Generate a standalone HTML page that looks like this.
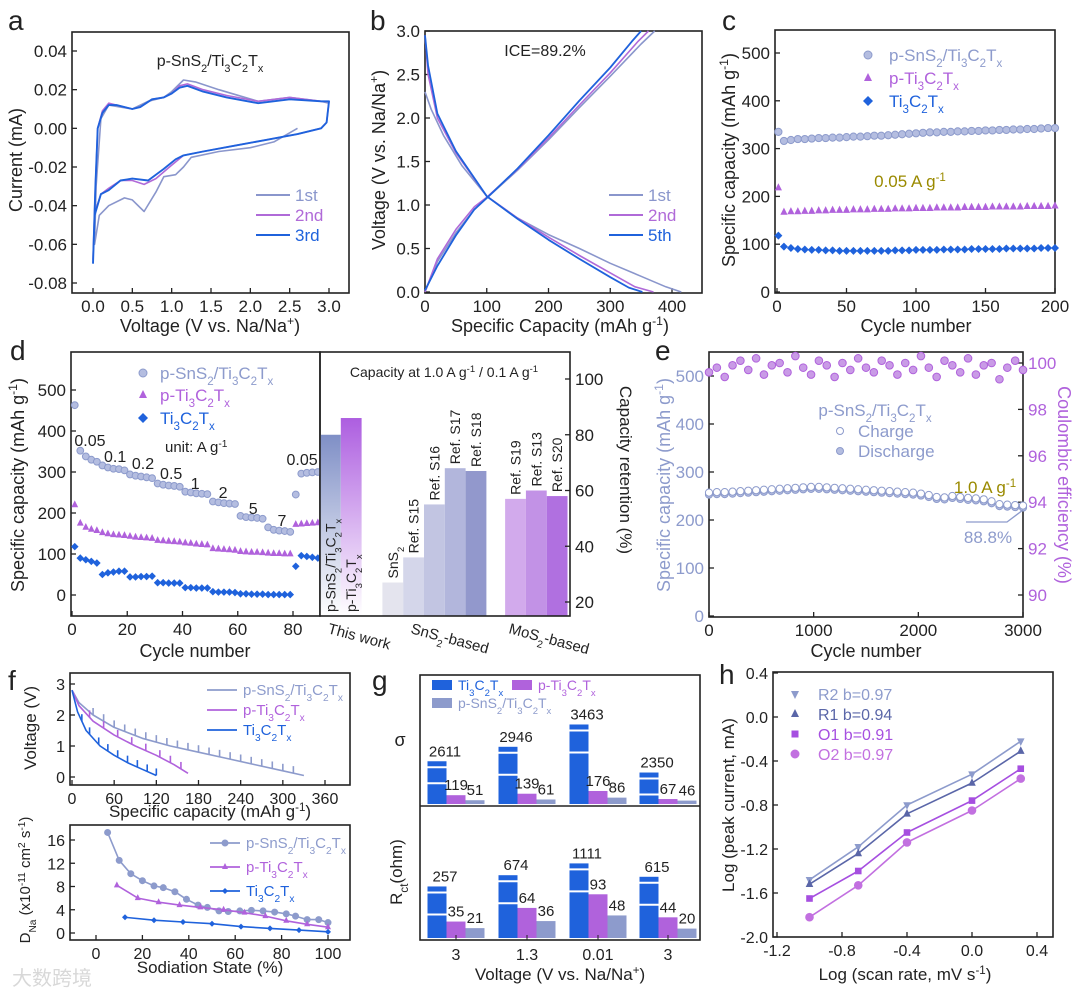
<!DOCTYPE html>
<html><head><meta charset="utf-8">
<style>
html,body{margin:0;padding:0;background:#fff;}
svg{display:block;font-family:"Liberation Sans","Noto Sans CJK SC",sans-serif;}
</style></head>
<body>
<svg id="fig" width="1080" height="991" viewBox="0 0 1080 991" xmlns="http://www.w3.org/2000/svg">
<defs>
<linearGradient id="gSn" x1="0" y1="0" x2="0" y2="1"><stop offset="0" stop-color="#7f8fc6"/><stop offset="1" stop-color="#ffffff"/></linearGradient>
<linearGradient id="gPt" x1="0" y1="0" x2="0" y2="1"><stop offset="0" stop-color="#ad5ee0"/><stop offset="1" stop-color="#ffffff"/></linearGradient>
</defs>
</svg>
<script>
// ---------- DATA ----------
const cv3 = [[0,-0.07],[0.02,-0.045],[0.1,-0.034],[0.2,-0.032],[0.35,-0.027],[0.5,-0.026],[0.7,-0.027],[0.9,-0.021],[1.05,-0.016],[1.15,-0.014],[1.4,-0.012],[1.8,-0.009],[2.2,-0.006],[2.6,-0.003],[2.9,0.0],[2.97,0.003],[3.0,0.014],[2.9,0.014],[2.5,0.015],[2.1,0.013],[1.7,0.016],[1.4,0.019],[1.2,0.022],[1.1,0.021],[1.0,0.018],[0.9,0.016],[0.75,0.015],[0.6,0.011],[0.5,0.01],[0.3,0.012],[0.2,0.012],[0.12,0.008],[0.06,0.0],[0.03,-0.03],[0,-0.07]];
const cv2 = [[0,-0.068],[0.02,-0.044],[0.1,-0.034],[0.2,-0.031],[0.35,-0.027],[0.5,-0.027],[0.65,-0.029],[0.8,-0.026],[1.0,-0.019],[1.15,-0.014],[1.4,-0.012],[1.8,-0.009],[2.2,-0.006],[2.6,-0.003],[2.9,0.0],[2.97,0.003],[3.0,0.014],[2.9,0.014],[2.5,0.016],[2.1,0.014],[1.7,0.017],[1.4,0.02],[1.2,0.023],[1.1,0.022],[1.0,0.018],[0.9,0.016],[0.75,0.015],[0.6,0.011],[0.5,0.01],[0.3,0.012],[0.2,0.013],[0.12,0.009],[0.06,0.0],[0.03,-0.03],[0,-0.068]];
const cv1 = [[2.6,0.0],[2.3,-0.007],[2.0,-0.01],[1.6,-0.012],[1.25,-0.015],[1.15,-0.02],[1.05,-0.024],[0.9,-0.025],[0.8,-0.033],[0.65,-0.043],[0.5,-0.037],[0.4,-0.036],[0.2,-0.04],[0.08,-0.045],[0.02,-0.06],[0.04,-0.03],[0.1,0.005],[0.2,0.012],[0.35,0.011],[0.5,0.01],[0.7,0.014],[0.9,0.016],[1.0,0.019],[1.15,0.025],[1.3,0.024],[1.6,0.02],[2.1,0.014],[2.5,0.016],[2.9,0.014],[3.0,0.013]];
const dis1 = [[0,2.3],[10,2.1],[30,1.8],[60,1.45],[100,1.1],[150,0.85],[200,0.66],[250,0.5],[300,0.33],[350,0.18],[390,0.06],[415,0]];
const dis2 = [[0,2.95],[5,2.5],[20,2.0],[50,1.6],[100,1.1],[150,0.85],[200,0.63],[250,0.42],[300,0.22],[340,0.06],[370,0]];
const dis5 = [[0,2.95],[5,2.6],[20,2.05],[50,1.62],[100,1.1],[150,0.84],[200,0.6],[250,0.38],[300,0.17],[330,0.05],[352,0]];
const ch1 = [[0,0],[20,0.35],[50,0.68],[80,0.95],[100,1.08],[150,1.4],[200,1.75],[250,2.12],[300,2.48],[350,2.85],[372,3.0]];
const ch2 = [[0,0],[20,0.38],[50,0.72],[80,0.98],[100,1.09],[150,1.41],[200,1.77],[250,2.15],[300,2.52],[345,2.88],[362,3.0]];
const ch5 = [[0,0.02],[20,0.3],[50,0.65],[80,0.95],[100,1.08],[150,1.42],[200,1.8],[250,2.2],[300,2.58],[335,2.88],[350,3.0]];
const cCyc = [1,5,10,15,20,25,30,35,40,45,50,55,60,65,70,75,80,85,90,95,100,105,110,115,120,125,130,135,140,145,150,155,160,165,170,175,180,185,190,195,200];
const cSn = [335,316,318,320,320,321,322,322,323,323,324,325,325,326,327,327,328,329,330,331,332,333,334,334,335,335,336,336,337,337,338,338,339,339,340,340,341,341,342,343,343];
const cPt = [218,167,168,168,169,169,170,170,171,171,171,172,172,172,173,173,173,174,174,174,175,175,175,176,176,176,176,177,177,177,177,178,178,178,178,178,179,179,179,179,180];
const cTi = [118,95,92,90,89,88,88,87,87,86,86,86,86,86,86,86,86,87,87,87,88,88,88,88,89,89,89,89,90,90,90,90,90,91,91,91,91,91,92,92,92];
const dCyc = [1,3,5,7,9,11,13,15,17,19,21,23,25,27,29,31,33,35,37,39,41,43,45,47,49,51,53,55,57,59,61,63,65,67,69,71,73,75,77,79,81,83,85,87,89];
const dSn = [463,352,338,330,325,316,311,308,307,304,294,291,289,287,285,272,269,267,266,264,252,250,248,247,246,228,226,224,223,222,193,190,189,188,186,165,159,157,156,154,245,296,298,299,300];
const dPt = [220,175,165,160,157,152,149,147,146,145,143,141,140,139,138,133,132,131,130,129,127,126,124,123,122,113,112,111,110,109,106,105,104,104,103,140,150,158,164,170,172,173,174,175,176];
const dTi = [118,90,86,82,78,50,54,56,58,58,44,44,45,45,46,30,30,29,29,29,18,18,17,17,17,8,7,7,7,6,3,3,2,2,2,1,1,1,1,1,70,96,94,92,90];
dPt.splice(35,5,102,101,101,100,100);
const rateLabels = ["0.05","0.1","0.2","0.5","1","2","5","7","0.05"];
const rateCyc = [6.5,15.6,25.7,35.9,44.6,54.7,65.6,76,83.3];
const rateVal = [378,339,322,298,273,251,212,183,332];
const retVals = [80,86,27,36,55,68,67,57,60,58];
const retSlot = [0,1,3,4,5,6,7,8.9,9.9,10.9];
const retFill = ["url(#gSn)","url(#gPt)","#e4e4ee","#d4d6ea","#c2c5e2","#b2b6dc","#9298cc","#d2aaec","#c292e6","#b070e0"];
const eStep = 75;
const eCap = [255,256,256,257,258,259,260,261,262,263,264,265,266,267,267,266,265,264,263,262,261,260,259,258,257,256,255,253,250,246,245,248,246,244,243,241,237,231,230,229,228];
const eCE = [99.6,99.8,99.4,99.9,100.1,99.7,100.2,99.5,99.9,100.0,99.6,100.3,99.8,99.5,100.1,99.9,99.4,100.0,99.7,100.2,99.8,99.6,100.1,99.9,99.5,100.0,99.7,100.3,99.8,99.4,100.1,99.9,99.6,100.2,99.5,99.9,100.0,99.3,99.8,100.1,99.7];
const fSn = [[0,2.8],[10,2.4],[30,2.0],[60,1.6],[100,1.25],[140,1.0],[180,0.8],[220,0.6],[260,0.4],[300,0.2],[330,0.05]];
const fPt = [[0,2.8],[10,2.3],[30,1.8],[60,1.35],[90,1.0],[120,0.7],[145,0.4],[165,0.12]];
const fTi = [[0,2.8],[8,2.1],[20,1.5],[40,1.0],[60,0.7],[80,0.45],[100,0.25],[120,0.05]];
const fSnPulse = [30,45,60,75,90,105,120,135,150,165,180,195,210,225,240,255,270,285,300,315];
const fPtPulse = [25,45,65,85,105,125,140,155];
const fTiPulse = [14,25,38,51,65,79,93,107,120];
const dnSnX = [5,10,15,20,25,29,34,39,44,48,53,57,62,67,72,77,82,86,91,96,100];
const dnSnY = [17.3,12.5,10.2,9.0,8.1,7.8,7.1,5.8,4.8,4.4,3.8,3.7,3.8,3.9,3.8,3.6,3.3,2.9,2.3,2.3,1.8];
const dnPtX = [9,18,27,36,45,55,64,73,82,91,100];
const dnPtY = [8.2,6.0,5.3,4.8,4.4,4.0,3.5,2.9,2.1,1.5,1.0];
const dnTiX = [12.5,25,37.5,50,62.5,75,87.5,100];
const dnTiY = [2.7,2.2,1.9,1.6,1.1,0.8,0.5,0.2];
const gVolt = ["3","1.3","0.01","3"];
const gSigTi = [2611,2946,3463,2350];
const gSigPt = [119,139,176,67];
const gSigSn = [51,61,86,46];
const gRTi = [257,674,1111,615];
const gRPt = [35,64,93,44];
const gRSn = [21,36,48,20];
const hX = [-1,-0.7,-0.4,0,0.3];
const hR2 = [-1.48,-1.18,-0.8,-0.52,-0.22];
const hR1 = [-1.52,-1.24,-0.88,-0.6,-0.31];
const hO1 = [-1.65,-1.4,-1.05,-0.76,-0.47];
const hO2 = [-1.82,-1.53,-1.14,-0.85,-0.56];

// ---------- HELPERS ----------
const NS = "http://www.w3.org/2000/svg";
const S = document.getElementById('fig');
const BLUE="#1f62dc", PURP="#b062dc", LAV="#8d9bcc", DARK="#222";
const TS=17;
function lin(d0,d1,p0,p1){return v=>p0+(v-d0)*(p1-p0)/(d1-d0);}
function mk(tag, attrs, name){
  const e = document.createElementNS(NS, tag);
  for (const k in attrs) e.setAttribute(k, attrs[k]);
  
  
  S.appendChild(e);
  return e;
}
function sb(s){return '<tspan baseline-shift="sub" font-size="0.68em">'+s+'</tspan>';}
function sp(s){return '<tspan baseline-shift="super" font-size="0.68em">'+s+'</tspan>';}
const PSN = 'p-SnS'+sb('2')+'/Ti'+sb('3')+'C'+sb('2')+'T'+sb('x');
const PTI = 'p-Ti'+sb('3')+'C'+sb('2')+'T'+sb('x');
const TI = 'Ti'+sb('3')+'C'+sb('2')+'T'+sb('x');
function txt(x,y,html,size,anchor,name,color,rot){
  const t = mk('text',{x:x,y:y,'font-size':size||TS,'text-anchor':anchor||'middle',fill:color||DARK,transform:rot?('rotate('+rot+' '+x+' '+y+')'):''},name);
  t.innerHTML = html;
  return t;
}
function frame(x0,y0,x1,y1,name){mk('rect',{x:x0,y:y0,width:x1-x0,height:y1-y0,fill:'none',stroke:DARK,'stroke-width':1.6},name);}
function xTicks(X,vals,labels,yb,name,sz){vals.forEach((v,i)=>{mk('line',{x1:X(v),x2:X(v),y1:yb,y2:yb-5,stroke:DARK,'stroke-width':1.3},name+'-tick');if(labels)txt(X(v),yb+19,labels[i],sz||TS,'middle',name+'-label');});}
function yTicks(Y,vals,labels,xl,name,side,color,sz){vals.forEach((v,i)=>{const dx=side==='r'?-5:5;mk('line',{x1:xl,x2:xl+dx,y1:Y(v),y2:Y(v),stroke:DARK,'stroke-width':1.3},name+'-tick');if(labels)txt(side==='r'?xl+5:xl-5,Y(v)+6,labels[i],sz||TS,side==='r'?'start':'end',name+'-label',color);});}
function poly(pts,X,Y,color,w,name){mk('polyline',{points:pts.map(p=>X(p[0]).toFixed(1)+','+Y(p[1]).toFixed(1)).join(' '),fill:'none',stroke:color,'stroke-width':w||1.8,'stroke-linejoin':'round'},name);}
function marker(x,y,shape,color,name,r,fill){
  r=r||4;
  if(shape==='c') mk('circle',{cx:x,cy:y,r:r,fill:fill||color,stroke:color,'stroke-width':1},name);
  else if(shape==='t') mk('polygon',{points:`${x},${y-r-1} ${x-r},${y+r-1} ${x+r},${y+r-1}`,fill:color},name);
  else if(shape==='v') mk('polygon',{points:`${x},${y+r+1} ${x-r},${y-r+1} ${x+r},${y-r+1}`,fill:color},name);
  else if(shape==='d') mk('polygon',{points:`${x},${y-r} ${x-r},${y} ${x},${y+r} ${x+r},${y}`,fill:color},name);
  else if(shape==='s') mk('rect',{x:x-r+0.5,y:y-r+0.5,width:2*r-1,height:2*r-1,fill:color},name);
}
function letter(x,y,l){txt(x,y,l,28,'start','panel-label-'+l);}

// ---------- PANEL A ----------
(function(){
  const X=lin(0,3,93,329), Y=lin(0.04,-0.08,51,283);
  letter(8,30,'a');
  frame(72,32,349,293,'panel-a-frame');
  xTicks(X,[0,0.5,1,1.5,2,2.5,3],['0.0','0.5','1.0','1.5','2.0','2.5','3.0'],293,'a-x');
  yTicks(Y,[0.04,0.02,0,-0.02,-0.04,-0.06,-0.08],['0.04','0.02','0.00','-0.02','-0.04','-0.06','-0.08'],72,'a-y');
  poly(cv1,X,Y,'#8a96cc',1.6,'cv-1st');
  poly(cv2,X,Y,'#b06ad8',1.6,'cv-2nd');
  poly(cv3,X,Y,BLUE,1.9,'cv-3rd');
  txt(210,66,PSN,16,'middle','a-title');
  [['1st','#8a96cc'],['2nd','#b06ad8'],['3rd',BLUE]].forEach((l,i)=>{mk('line',{x1:256,x2:290,y1:195+i*20,y2:195+i*20,stroke:l[1],'stroke-width':2},'legend-a-'+l[0]);txt(295,201+i*20,l[0],17,'start','legend-a-text',l[1]);});
  txt(210,332,'Voltage (V vs. Na/Na'+sp('+')+')',18,'middle','a-x-title');
  txt(22,160,'Current (mA)',18,'middle','a-y-title',DARK,-90);
})();

// ---------- PANEL B ----------
(function(){
  const X=lin(0,400,425,672), Y=lin(0,3,292,31);
  letter(370,30,'b');
  frame(425,31,702,293,'panel-b-frame');
  xTicks(X,[0,100,200,300,400],['0','100','200','300','400'],293,'b-x');
  yTicks(Y,[0,0.5,1,1.5,2,2.5,3],['0.0','0.5','1.0','1.5','2.0','2.5','3.0'],425,'b-y');
  poly(dis1,X,Y,'#8a96cc',1.6,'discharge-1st');poly(ch1,X,Y,'#8a96cc',1.6,'charge-1st');
  poly(dis2,X,Y,'#b06ad8',1.6,'discharge-2nd');poly(ch2,X,Y,'#b06ad8',1.6,'charge-2nd');
  poly(dis5,X,Y,BLUE,1.8,'discharge-5th');poly(ch5,X,Y,BLUE,1.8,'charge-5th');
  txt(545,56,'ICE=89.2%',16,'middle','ice-annotation');
  [['1st','#8a96cc'],['2nd','#b06ad8'],['5th',BLUE]].forEach((l,i)=>{mk('line',{x1:609,x2:643,y1:195+i*20,y2:195+i*20,stroke:l[1],'stroke-width':2},'legend-b-'+l[0]);txt(648,201+i*20,l[0],17,'start','legend-b-text',l[1]);});
  txt(560,332,'Specific Capacity (mAh g'+sp('-1')+')',18,'middle','b-x-title');
  txt(385,160,'Voltage (V vs. Na/Na'+sp('+')+')',18,'middle','b-y-title',DARK,-90);
})();

// ---------- PANEL C ----------
(function(){
  const X=lin(0,200,777,1055), Y=lin(0,500,292,53);
  letter(722,30,'c');
  frame(775,30,1055,293,'panel-c-frame');
  xTicks(X,[0,50,100,150,200],['0','50','100','150','200'],293,'c-x');
  yTicks(Y,[0,100,200,300,400,500],['0','100','200','300','400','500'],775,'c-y');
  cCyc.forEach((c,i)=>{marker(X(c),Y(cSn[i]),'c','#8d9bcc','point-c-psns2',3.6,'#b4bde0');});
  cCyc.forEach((c,i)=>{marker(X(c),Y(cPt[i]),'t',PURP,'point-c-pti3c2',3.6);});
  cCyc.forEach((c,i)=>{marker(X(c),Y(cTi[i]),'d',BLUE,'point-c-ti3c2',4);});
  marker(868,55,'c','#8d9bcc','legend-c-marker',4,'#b4bde0');txt(889,61,PSN,17,'start','legend-c-psns2','#8d9bcc');
  marker(868,78,'t',PURP,'legend-c-marker',4);txt(889,84,PTI,17,'start','legend-c-pti3c2',PURP);
  marker(868,101,'d',BLUE,'legend-c-marker',5);txt(889,107,TI,17,'start','legend-c-ti3c2',BLUE);
  txt(910,187,'0.05 A g'+sp('-1'),17,'middle','c-rate-annotation','#9a8a00');
  txt(916,332,'Cycle number',18,'middle','c-x-title');
  txt(735,160,'Specific capacity (mAh g'+sp('-1')+')',18,'middle','c-y-title',DARK,-90);
})();

// ---------- PANEL D (left) ----------
(function(){
  const X=lin(0,80,72,293), Y=lin(0,500,595,390);
  letter(10,360,'d');
  frame(71,352,320,616,'panel-d-frame-left');
  xTicks(X,[0,20,40,60,80],['0','20','40','60','80'],616,'d-x');
  yTicks(Y,[0,100,200,300,400,500],['0','100','200','300','400','500'],71,'d-y');
  dCyc.forEach((c,i)=>{marker(X(c),Y(dSn[i]),'c','#8d9bcc','point-d-psns2',3.4,'#b4bde0');});
  dCyc.forEach((c,i)=>{marker(X(c),Y(dPt[i]),'t',PURP,'point-d-pti3c2',3.4);});
  dCyc.forEach((c,i)=>{marker(X(c),Y(dTi[i]),'d',BLUE,'point-d-ti3c2',3.8);});
  rateLabels.forEach((l,i)=>{txt(X(rateCyc[i]),Y(rateVal[i])+6,l,16,'middle','rate-label');});
  marker(143,373,'c','#8d9bcc','legend-d-marker',4,'#b4bde0');txt(160,379,PSN,17,'start','legend-d-psns2','#8d9bcc');
  marker(143,395,'t',PURP,'legend-d-marker',4);txt(160,401,PTI,17,'start','legend-d-pti3c2',PURP);
  marker(143,418,'d',BLUE,'legend-d-marker',5);txt(160,424,TI,17,'start','legend-d-ti3c2',BLUE);
  txt(165,452,'unit: A g'+sp('-1'),15,'start','d-unit');
  txt(195,657,'Cycle number',18,'middle','d-x-title');
  txt(24,485,'Specific capacity (mAh g'+sp('-1')+')',18,'middle','d-y-title',DARK,-90);
})();

// ---------- PANEL D (right bars) ----------
(function(){
  const Y=lin(20,100,602,379);
  const bw=20.8;
  retVals.forEach((v,i)=>{
    const x=320+retSlot[i]*bw;
    mk('rect',{x:x,y:Y(v),width:bw,height:616-Y(v),fill:retFill[i]},'retention-bar');
  });
  frame(320,352,570,616,'panel-d-frame-right');
  yTicks(Y,[20,40,60,80,100],['20','40','60','80','100'],570,'d-right-y','r');
  const lbl=[PSN,PTI,'SnS'+sb('2'),'Ref. S15','Ref. S16','Ref. S17','Ref. S18','Ref. S19','Ref. S13','Ref. S20'];
  retVals.forEach((v,i)=>{
    const x=320+retSlot[i]*bw+bw/2+5;
    const y=i<2?612:Y(v)-4;
    txt(x,y,lbl[i],14,'start','retention-label',DARK,-90);
  });
  txt(444,377,'Capacity at 1.0 A g'+sp('-1')+' / 0.1 A g'+sp('-1'),14,'middle','d-right-title');
  txt(327,633,'This work',15,'start','group-this-work',DARK,15);
  txt(410,633,'SnS'+sb('2')+'-based',15,'start','group-sns2-based',DARK,15);
  txt(508,633,'MoS'+sb('2')+'-based',15,'start','group-mos2-based',DARK,15);
  txt(620,470,'Capacity retention (%)',17,'middle','d-right-y-title',DARK,90);
})();

// ---------- PANEL E ----------
(function(){
  const X=lin(0,3000,709,1023), Y=lin(0,500,616,376), Y2=lin(90,100,595,363);
  letter(655,360,'e');
  frame(709,352,1023,617,'panel-e-frame');
  xTicks(X,[0,1000,2000,3000],['0','1000','2000','3000'],617,'e-x');
  yTicks(Y,[0,100,200,300,400,500],['0','100','200','300','400','500'],709,'e-y','l',LAV);
  yTicks(Y2,[90,92,94,96,98,100],['90','92','94','96','98','100'],1023,'e-y2','r',PURP);
  eCE.forEach((v,i)=>{marker(X(i*eStep),Y2(v),'c',PURP,'point-e-ce',3.8,'#c99be6');});
  eCap.forEach((v,i)=>{marker(X(i*eStep),Y(v)+1,'c','#8d9bcc','point-e-discharge',3.6,'#b4bde0');});
  eCap.forEach((v,i)=>{marker(X(i*eStep),Y(v)-1,'c','#8d9bcc','point-e-charge',3.6,'#ffffff');});
  txt(875,416,PSN,17,'middle','legend-e-title',LAV);
  mk('circle',{cx:840,cy:431,r:3.5,fill:'#fff',stroke:'#8d9bcc'},'legend-e-charge-marker');txt(858,437,'Charge',17,'start','legend-e-charge',LAV);
  mk('circle',{cx:840,cy:451,r:3.5,fill:'#b4bde0',stroke:'#8d9bcc'},'legend-e-discharge-marker');txt(858,457,'Discharge',17,'start','legend-e-discharge',LAV);
  txt(985,493,'1.0 A g'+sp('-1'),17,'middle','e-rate-annotation','#9a8a00');
  mk('polyline',{points:'966,522 1007,522 1023,510',fill:'none',stroke:LAV,'stroke-width':1.3},'e-retention-pointer');
  txt(988,543,'88.8%',17,'middle','e-retention-annotation',LAV);
  txt(866,657,'Cycle number',18,'middle','e-x-title');
  txt(670,485,'Specific capacity (mAh g'+sp('-1')+')',18,'middle','e-y-title',LAV,-90);
  txt(1058,485,'Coulombic efficiency (%)',18,'middle','e-y2-title',PURP,90);
})();

// ---------- PANEL F ----------
(function(){
  const X=lin(0,360,72,325), Y=lin(0,3,777,684);
  letter(8,690,'f');
  frame(70,673,350,785,'panel-f-top-frame');
  xTicks(X,[0,60,120,180,240,300,360],['0','60','120','180','240','300','360'],785,'f-top-x',16);
  yTicks(Y,[0,1,2,3],['0','1','2','3'],70,'f-top-y','l',DARK,16);
  function gitt(env,pulses,color,name){
    poly(env,X,Y,color,1.6,name);
    pulses.forEach(c=>{
      let v=0;for(let i=1;i<env.length;i++){if(env[i][0]>=c){const a=env[i-1],b=env[i];v=a[1]+(b[1]-a[1])*(c-a[0])/(b[0]-a[0]);break;}}
      mk('line',{x1:X(c),x2:X(c),y1:Y(v),y2:Y(v)-7,stroke:color,'stroke-width':1.6},name+'-relax');
    });
  }
  gitt(fSn,fSnPulse,LAV,'gitt-psns2');gitt(fPt,fPtPulse,PURP,'gitt-pti3c2');gitt(fTi,fTiPulse,BLUE,'gitt-ti3c2');
  [[PSN,LAV],[PTI,PURP],[TI,BLUE]].forEach((l,i)=>{mk('line',{x1:207,x2:237,y1:690+i*20,y2:690+i*20,stroke:l[1],'stroke-width':1.8},'legend-f-top-line');txt(243,695+i*20,l[0],15,'start','legend-f-top-text',l[1]);});
  txt(210,817,'Specific capacity (mAh g'+sp('-1')+')',17,'middle','f-top-x-title');
  txt(36,728,'Voltage (V)',17,'middle','f-top-y-title',DARK,-90);

  const X2=lin(0,100,96,328), Y2=lin(0,16,933,840);
  frame(70,825,350,940,'panel-f-bottom-frame');
  xTicks(X2,[0,20,40,60,80,100],['0','20','40','60','80','100'],940,'f-bot-x',16);
  yTicks(Y2,[0,4,8,12,16],['0','4','8','12','16'],70,'f-bot-y','l',DARK,16);
  function ser(xs,ys,color,shape,name){poly(xs.map((x,i)=>[x,ys[i]]),X2,Y2,color,1.6,name);xs.forEach((x,i)=>marker(X2(x),Y2(ys[i]),shape,color,name+'-point',3));}
  ser(dnSnX,dnSnY,LAV,'c','dna-psns2');ser(dnPtX,dnPtY,PURP,'t','dna-pti3c2');ser(dnTiX,dnTiY,BLUE,'d','dna-ti3c2');
  [[PSN,LAV,'c'],[PTI,PURP,'t'],[TI,BLUE,'d']].forEach((l,i)=>{mk('line',{x1:210,x2:240,y1:843+i*24,y2:843+i*24,stroke:l[1],'stroke-width':1.8},'legend-f-bot-line');marker(225,843+i*24,l[2],l[1],'legend-f-bot-marker',3);txt(246,848+i*24,l[0],15,'start','legend-f-bot-text',l[1]);});
  txt(210,973,'Sodiation State (%)',17,'middle','f-bot-x-title');
  txt(30,880,'D'+sb('Na')+' (x10'+sp('-11')+' cm'+sp('2')+' s'+sp('-1')+')',15,'middle','f-bot-y-title',DARK,-90);
  txt(12,985,'大数跨境',20,'start','watermark','#d8d8d8');
})();

// ---------- PANEL G ----------
(function(){
  letter(372,690,'g');
  frame(420,675,700,940,'panel-g-frame');
  mk('line',{x1:420,x2:700,y1:806,y2:806,stroke:DARK,'stroke-width':1.6},'g-divider');
  const centers=[456,527,598,668], bw=19;
  function hSig(v){return v<300?v*0.074:25+(v-2200)*0.026*1.66;}
  function hR(v){return v<200?v*0.47:50+(v-200)*0.027;}
  function bars(vals,off,color,base,hf,name,showBreak){
    vals.forEach((v,i)=>{
      const h=hf(v), x=centers[i]+off-bw/2;
      mk('rect',{x:x,y:base-h,width:bw,height:h,fill:color},name);
      if(showBreak){[base-h+6,base-h+(h>50?28:22)].forEach(yy=>mk('line',{x1:x,x2:x+bw,y1:yy,y2:yy,stroke:'#fff','stroke-width':2},name+'-break'));}
    });
  }
  bars(gSigTi,-bw,BLUE,804,hSig,'bar-sigma-ti3c2',true);
  bars(gSigPt,0,PURP,804,hSig,'bar-sigma-pti3c2');
  bars(gSigSn,bw,LAV,804,hSig,'bar-sigma-psns2');
  bars(gRTi,-bw,BLUE,938,hR,'bar-rct-ti3c2',true);
  bars(gRPt,0,PURP,938,hR,'bar-rct-pti3c2');
  bars(gRSn,bw,LAV,938,hR,'bar-rct-psns2');
  const lab=(vals,off,base,hf,name,dx)=>vals.forEach((v,i)=>txt(centers[i]+off+(dx||0),base-hf(v)-5,String(v),15,'middle',name));
  lab(gSigTi,-bw,804,hSig,'sigma-value-ti3c2',8);lab(gSigPt,0,804,hSig,'sigma-value-pti3c2');lab(gSigSn,bw,804,hSig,'sigma-value-psns2');
  lab(gRTi,-bw,938,hR,'rct-value-ti3c2',8);lab(gRPt,0,938,hR,'rct-value-pti3c2');lab(gRSn,bw,938,hR,'rct-value-psns2');
  gVolt.forEach((v,i)=>{mk('line',{x1:centers[i],x2:centers[i],y1:940,y2:935,stroke:DARK},'g-x-tick');txt(centers[i],960,v,16,'middle','g-x-label');});
  mk('rect',{x:432,y:680,width:20,height:10,fill:BLUE},'legend-g-ti3c2-swatch');txt(458,690,TI,14,'start','legend-g-ti3c2',BLUE);
  mk('rect',{x:512,y:680,width:20,height:10,fill:PURP},'legend-g-pti3c2-swatch');txt(538,690,PTI,14,'start','legend-g-pti3c2',PURP);
  mk('rect',{x:432,y:698,width:20,height:10,fill:LAV},'legend-g-psns2-swatch');txt(458,708,PSN,14,'start','legend-g-psns2',LAV);
  txt(400,746,'σ',18,'middle','g-sigma-title');
  txt(402,872,'R'+sb('ct')+'(ohm)',17,'middle','g-rct-title',DARK,-90);
  txt(560,980,'Voltage (V vs. Na/Na'+sp('+')+')',17,'middle','g-x-title');
})();

// ---------- PANEL H ----------
(function(){
  const X=lin(-1.2,0.4,777,1037), Y=lin(-2,0.4,937,673);
  letter(719,684,'h');
  frame(773,672,1053,937,'panel-h-frame');
  xTicks(X,[-1.2,-0.8,-0.4,0,0.4],['-1.2','-0.8','-0.4','0.0','0.4'],937,'h-x',16);
  yTicks(Y,[-2,-1.6,-1.2,-0.8,-0.4,0,0.4],['-2.0','-1.6','-1.2','-0.8','-0.4','0.0','0.4'],773,'h-y','l',DARK,16);
  const ser=[[hR2,'#8d9bcc','v','R2 b=0.97'],[hR1,'#5a66a8','t','R1 b=0.94'],[hO1,'#a64fe0','s','O1 b=0.91'],[hO2,'#c270e0','c','O2 b=0.97']];
  ser.forEach((s,k)=>{
    poly(hX.map((x,i)=>[x,s[0][i]]),X,Y,s[1],1.6,'fit-line-'+k);
    hX.forEach((x,i)=>marker(X(x),Y(s[0][i]),s[2],s[1],'point-h',3.8));
    marker(795,694+k*20,s[2],s[1],'legend-h-marker',4);
    txt(818,700+k*20,s[3],16,'start','legend-h-text',s[1]);
  });
  txt(905,980,'Log (scan rate, mV s'+sp('-1')+')',17,'middle','h-x-title');
  txt(734,805,'Log (peak current, mA)',17,'middle','h-y-title',DARK,-90);
})();
</script>
</body></html>
